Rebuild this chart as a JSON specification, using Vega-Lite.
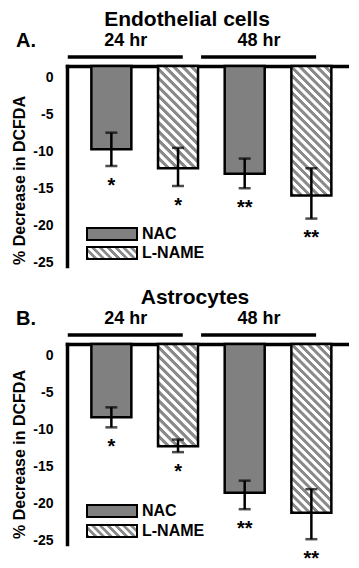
{
"$schema": "https://vega.github.io/schema/vega-lite/v6.json",
"padding": {"left": 11, "top": 9, "right": 0, "bottom": 0},
"background": "white",
"columns": 1,
"spacing": 17,
"align": "none",
"resolve": {"scale": {"x": "independent", "y": "independent", "fill": "independent"}, "legend": {"fill": "independent"}},
"config": {
  "font": "Liberation Sans",
  "view": {"stroke": null},
  "axis": {"domainColor": "black", "domainWidth": 3.5, "domainCap": "square", "ticks": false, "tickSize": 0, "grid": false, "labelOverlap": false, "labelFont": "Liberation Sans", "labelFontSize": 14, "labelFontWeight": "bold", "labelColor": "black", "titleFont": "Liberation Sans", "titleFontSize": 16, "titleFontWeight": "bold", "titleColor": "black"},
  "legend": {"labelFont": "Liberation Sans", "labelFontSize": 16, "labelFontWeight": "bold", "labelColor": "black", "labelLimit": 300}
},
"concat": [
{
 "title": {"text": "Endothelial cells", "fontSize": 21, "fontWeight": "bold", "font": "Liberation Sans", "color": "black", "anchor": "middle", "frame": "group", "dx": -21, "offset": -16, "baseline": "alphabetic"},
 "width": 282, "height": 200,
 "data": {"values": [
  {"cat": "NAC 24", "treat": "NAC", "v": -9.75, "lo": -12.0, "hi": -7.5, "sig": "*"},
  {"cat": "L-NAME 24", "treat": "L-NAME", "v": -12.3, "lo": -14.7, "hi": -9.55, "sig": "*"},
  {"cat": "NAC 48", "treat": "NAC", "v": -13.05, "lo": -15.0, "hi": -11.0, "sig": "**"},
  {"cat": "L-NAME 48", "treat": "L-NAME", "v": -15.97, "lo": -19.1, "hi": -12.3, "sig": "**"}
 ]},
 "layer": [
  {"mark": {"type": "bar", "stroke": "black", "strokeWidth": 2.5},
   "encoding": {
    "x": {"field": "cat", "type": "nominal", "scale": {"domain": ["NAC 24", "L-NAME 24", "NAC 48", "L-NAME 48"], "paddingInner": 0.4, "paddingOuter": 0.315, "align": 0.58}, "axis": {"orient": "top", "labels": false, "ticks": false, "title": null, "domain": true}},
    "y": {"field": "v", "type": "quantitative", "title": "% Decrease in DCFDA", "scale": {"domain": [-25.5, 1.5], "nice": false, "zero": false}, "axis": {"values": [0, -5, -10, -15, -20, -25], "tickCount": 12, "labelExpr": "'' + datum.value", "labelOverlap": false, "titleY": 114, "titlePadding": 5, "labelPadding": 14}},
    "y2": {"datum": 1.5},
    "fill": {
     "condition": [
      {"test": "datum.cat === 'L-NAME 24'", "value": {"gradient": "linear", "x1": 0, "y1": 1, "x2": 0.47214, "y2": -0.20656, "stops": [
{"offset":0,"color":"#8a8a8a"},{"offset":0.025,"color":"#8a8a8a"},{"offset":0.03125,"color":"#fff"},{"offset":0.05625,"color":"#fff"},
{"offset":0.0625,"color":"#8a8a8a"},{"offset":0.0875,"color":"#8a8a8a"},{"offset":0.09375,"color":"#fff"},{"offset":0.11875,"color":"#fff"},
{"offset":0.125,"color":"#8a8a8a"},{"offset":0.15,"color":"#8a8a8a"},{"offset":0.15625,"color":"#fff"},{"offset":0.18125,"color":"#fff"},
{"offset":0.1875,"color":"#8a8a8a"},{"offset":0.2125,"color":"#8a8a8a"},{"offset":0.21875,"color":"#fff"},{"offset":0.24375,"color":"#fff"},
{"offset":0.25,"color":"#8a8a8a"},{"offset":0.275,"color":"#8a8a8a"},{"offset":0.28125,"color":"#fff"},{"offset":0.30625,"color":"#fff"},
{"offset":0.3125,"color":"#8a8a8a"},{"offset":0.3375,"color":"#8a8a8a"},{"offset":0.34375,"color":"#fff"},{"offset":0.36875,"color":"#fff"},
{"offset":0.375,"color":"#8a8a8a"},{"offset":0.4,"color":"#8a8a8a"},{"offset":0.40625,"color":"#fff"},{"offset":0.43125,"color":"#fff"},
{"offset":0.4375,"color":"#8a8a8a"},{"offset":0.4625,"color":"#8a8a8a"},{"offset":0.46875,"color":"#fff"},{"offset":0.49375,"color":"#fff"},
{"offset":0.5,"color":"#8a8a8a"},{"offset":0.525,"color":"#8a8a8a"},{"offset":0.53125,"color":"#fff"},{"offset":0.55625,"color":"#fff"},
{"offset":0.5625,"color":"#8a8a8a"},{"offset":0.5875,"color":"#8a8a8a"},{"offset":0.59375,"color":"#fff"},{"offset":0.61875,"color":"#fff"},
{"offset":0.625,"color":"#8a8a8a"},{"offset":0.65,"color":"#8a8a8a"},{"offset":0.65625,"color":"#fff"},{"offset":0.68125,"color":"#fff"},
{"offset":0.6875,"color":"#8a8a8a"},{"offset":0.7125,"color":"#8a8a8a"},{"offset":0.71875,"color":"#fff"},{"offset":0.74375,"color":"#fff"},
{"offset":0.75,"color":"#8a8a8a"},{"offset":0.775,"color":"#8a8a8a"},{"offset":0.78125,"color":"#fff"},{"offset":0.80625,"color":"#fff"},
{"offset":0.8125,"color":"#8a8a8a"},{"offset":0.8375,"color":"#8a8a8a"},{"offset":0.84375,"color":"#fff"},{"offset":0.86875,"color":"#fff"},
{"offset":0.875,"color":"#8a8a8a"},{"offset":0.9,"color":"#8a8a8a"},{"offset":0.90625,"color":"#fff"},{"offset":0.93125,"color":"#fff"},
{"offset":0.9375,"color":"#8a8a8a"},{"offset":0.9625,"color":"#8a8a8a"},{"offset":0.96875,"color":"#fff"},{"offset":0.99375,"color":"#fff"}
      ]}},
      {"test": "datum.cat === 'L-NAME 48'", "value": {"gradient": "linear", "x1": 0, "y1": 1, "x2": 0.36935, "y2": -0.19494, "stops": [
{"offset":0,"color":"#8a8a8a"},{"offset":0.02,"color":"#8a8a8a"},{"offset":0.025,"color":"#fff"},{"offset":0.045,"color":"#fff"},
{"offset":0.05,"color":"#8a8a8a"},{"offset":0.07,"color":"#8a8a8a"},{"offset":0.075,"color":"#fff"},{"offset":0.095,"color":"#fff"},
{"offset":0.1,"color":"#8a8a8a"},{"offset":0.12,"color":"#8a8a8a"},{"offset":0.125,"color":"#fff"},{"offset":0.145,"color":"#fff"},
{"offset":0.15,"color":"#8a8a8a"},{"offset":0.17,"color":"#8a8a8a"},{"offset":0.175,"color":"#fff"},{"offset":0.195,"color":"#fff"},
{"offset":0.2,"color":"#8a8a8a"},{"offset":0.22,"color":"#8a8a8a"},{"offset":0.225,"color":"#fff"},{"offset":0.245,"color":"#fff"},
{"offset":0.25,"color":"#8a8a8a"},{"offset":0.27,"color":"#8a8a8a"},{"offset":0.275,"color":"#fff"},{"offset":0.295,"color":"#fff"},
{"offset":0.3,"color":"#8a8a8a"},{"offset":0.32,"color":"#8a8a8a"},{"offset":0.325,"color":"#fff"},{"offset":0.345,"color":"#fff"},
{"offset":0.35,"color":"#8a8a8a"},{"offset":0.37,"color":"#8a8a8a"},{"offset":0.375,"color":"#fff"},{"offset":0.395,"color":"#fff"},
{"offset":0.4,"color":"#8a8a8a"},{"offset":0.42,"color":"#8a8a8a"},{"offset":0.425,"color":"#fff"},{"offset":0.445,"color":"#fff"},
{"offset":0.45,"color":"#8a8a8a"},{"offset":0.47,"color":"#8a8a8a"},{"offset":0.475,"color":"#fff"},{"offset":0.495,"color":"#fff"},
{"offset":0.5,"color":"#8a8a8a"},{"offset":0.52,"color":"#8a8a8a"},{"offset":0.525,"color":"#fff"},{"offset":0.545,"color":"#fff"},
{"offset":0.55,"color":"#8a8a8a"},{"offset":0.57,"color":"#8a8a8a"},{"offset":0.575,"color":"#fff"},{"offset":0.595,"color":"#fff"},
{"offset":0.6,"color":"#8a8a8a"},{"offset":0.62,"color":"#8a8a8a"},{"offset":0.625,"color":"#fff"},{"offset":0.645,"color":"#fff"},
{"offset":0.65,"color":"#8a8a8a"},{"offset":0.67,"color":"#8a8a8a"},{"offset":0.675,"color":"#fff"},{"offset":0.695,"color":"#fff"},
{"offset":0.7,"color":"#8a8a8a"},{"offset":0.72,"color":"#8a8a8a"},{"offset":0.725,"color":"#fff"},{"offset":0.745,"color":"#fff"},
{"offset":0.75,"color":"#8a8a8a"},{"offset":0.77,"color":"#8a8a8a"},{"offset":0.775,"color":"#fff"},{"offset":0.795,"color":"#fff"},
{"offset":0.8,"color":"#8a8a8a"},{"offset":0.82,"color":"#8a8a8a"},{"offset":0.825,"color":"#fff"},{"offset":0.845,"color":"#fff"},
{"offset":0.85,"color":"#8a8a8a"},{"offset":0.87,"color":"#8a8a8a"},{"offset":0.875,"color":"#fff"},{"offset":0.895,"color":"#fff"},
{"offset":0.9,"color":"#8a8a8a"},{"offset":0.92,"color":"#8a8a8a"},{"offset":0.925,"color":"#fff"},{"offset":0.945,"color":"#fff"},
{"offset":0.95,"color":"#8a8a8a"},{"offset":0.97,"color":"#8a8a8a"},{"offset":0.975,"color":"#fff"},{"offset":0.995,"color":"#fff"}
      ]}}
     ],
     "field": "treat", "type": "nominal",
     "scale": {"domain": ["NAC", "L-NAME"], "range": ["#808080", {"expr": "{gradient: 'linear', x1: 0, y1: 1, x2: 1.17246, y2: 0.71861, stops: [{offset: 0, color: '#8a8a8a'}, {offset: 0.05, color: '#8a8a8a'}, {offset: 0.0625, color: '#fff'}, {offset: 0.1125, color: '#fff'}, {offset: 0.125, color: '#8a8a8a'}, {offset: 0.175, color: '#8a8a8a'}, {offset: 0.1875, color: '#fff'}, {offset: 0.2375, color: '#fff'}, {offset: 0.25, color: '#8a8a8a'}, {offset: 0.3, color: '#8a8a8a'}, {offset: 0.3125, color: '#fff'}, {offset: 0.3625, color: '#fff'}, {offset: 0.375, color: '#8a8a8a'}, {offset: 0.425, color: '#8a8a8a'}, {offset: 0.4375, color: '#fff'}, {offset: 0.4875, color: '#fff'}, {offset: 0.5, color: '#8a8a8a'}, {offset: 0.55, color: '#8a8a8a'}, {offset: 0.5625, color: '#fff'}, {offset: 0.6125, color: '#fff'}, {offset: 0.625, color: '#8a8a8a'}, {offset: 0.675, color: '#8a8a8a'}, {offset: 0.6875, color: '#fff'}, {offset: 0.7375, color: '#fff'}, {offset: 0.75, color: '#8a8a8a'}, {offset: 0.8, color: '#8a8a8a'}, {offset: 0.8125, color: '#fff'}, {offset: 0.8625, color: '#fff'}, {offset: 0.875, color: '#8a8a8a'}, {offset: 0.925, color: '#8a8a8a'}, {offset: 0.9375, color: '#fff'}, {offset: 0.9875, color: '#fff'}]}"}]},
     "legend": {"orient": "none", "legendX": 37, "legendY": 160, "title": null, "symbolType": "M-4.1667,-1H4.1667V1H-4.1667Z", "symbolSize": 144, "symbolStrokeColor": "black", "symbolStrokeWidth": 2, "symbolOpacity": 1, "labelOffset": 22, "rowPadding": -1,
      "encoding": {"symbols": {"stroke": {"value": "black"}, "strokeWidth": {"value": 2}}}}
    }
   }},
  {"mark": {"type": "errorbar", "ticks": {"size": 12, "thickness": 2.5, "color": "black"}, "rule": {"strokeWidth": 2.5, "color": "black"}},
   "encoding": {"x": {"field": "cat", "type": "nominal"}, "y": {"field": "lo", "type": "quantitative", "title": "% Decrease in DCFDA"}, "y2": {"field": "hi"}}},
  {"mark": {"type": "text", "baseline": "top", "dy": 9.5, "fontSize": 20, "fontWeight": "bold", "font": "Liberation Sans", "color": "black"},
   "encoding": {"x": {"field": "cat", "type": "nominal"}, "y": {"field": "lo", "type": "quantitative", "title": "% Decrease in DCFDA"}, "text": {"field": "sig"}}},
  {"data": {"values": [{"label": "24 hr", "a": "NAC 24", "b": "L-NAME 24"}, {"label": "48 hr", "a": "NAC 48", "b": "L-NAME 48"}]},
   "layer": [
    {"mark": {"type": "rule", "strokeWidth": 3.5, "color": "black", "xOffset": -43.6, "x2Offset": 4.75},
     "encoding": {"x": {"field": "a", "type": "nominal"}, "x2": {"field": "b"}, "y": {"datum": 2.7}}},
    {"mark": {"type": "text", "fontSize": 18, "fontWeight": "bold", "font": "Liberation Sans", "color": "black", "dx": 14.4, "baseline": "middle"},
     "encoding": {"x": {"field": "a", "type": "nominal"}, "y": {"datum": 4.875}, "text": {"field": "label"}}}
   ]},
  {"data": {"values": [{"label": "A.", "a": "NAC 24"}]},
   "mark": {"type": "text", "align": "left", "dx": -95.4, "fontSize": 20, "fontWeight": "bold", "font": "Liberation Sans", "color": "black", "baseline": "middle"},
   "encoding": {"x": {"field": "a", "type": "nominal"}, "y": {"datum": 4.875}, "text": {"field": "label"}}}
 ]
},
{
 "title": {"text": "Astrocytes", "fontSize": 21, "fontWeight": "bold", "font": "Liberation Sans", "color": "black", "anchor": "middle", "frame": "group", "dx": -13, "offset": -16, "baseline": "alphabetic"},
 "width": 282, "height": 200,
 "data": {"values": [
  {"cat": "NAC 24", "treat": "NAC", "v": -8.4, "lo": -9.75, "hi": -7.05, "sig": "*"},
  {"cat": "L-NAME 24", "treat": "L-NAME", "v": -12.3, "lo": -13.1, "hi": -11.4, "sig": "*"},
  {"cat": "NAC 48", "treat": "NAC", "v": -18.58, "lo": -20.8, "hi": -16.95, "sig": "**"},
  {"cat": "L-NAME 48", "treat": "L-NAME", "v": -21.28, "lo": -24.85, "hi": -18.1, "sig": "**"}
 ]},
 "layer": [
  {"mark": {"type": "bar", "stroke": "black", "strokeWidth": 2.5},
   "encoding": {
    "x": {"field": "cat", "type": "nominal", "scale": {"domain": ["NAC 24", "L-NAME 24", "NAC 48", "L-NAME 48"], "paddingInner": 0.4, "paddingOuter": 0.315, "align": 0.58}, "axis": {"orient": "top", "labels": false, "ticks": false, "title": null, "domain": true}},
    "y": {"field": "v", "type": "quantitative", "title": "% Decrease in DCFDA", "scale": {"domain": [-25.5, 1.5], "nice": false, "zero": false}, "axis": {"values": [0, -5, -10, -15, -20, -25], "tickCount": 12, "labelExpr": "'' + datum.value", "labelOverlap": false, "titleY": 110, "titlePadding": 5, "labelPadding": 14}},
    "y2": {"datum": 1.5},
    "fill": {
     "condition": [
      {"test": "datum.cat === 'L-NAME 24'", "value": {"gradient": "linear", "x1": 0, "y1": 1, "x2": 0.47214, "y2": -0.20656, "stops": [
{"offset":0,"color":"#8a8a8a"},{"offset":0.025,"color":"#8a8a8a"},{"offset":0.03125,"color":"#fff"},{"offset":0.05625,"color":"#fff"},
{"offset":0.0625,"color":"#8a8a8a"},{"offset":0.0875,"color":"#8a8a8a"},{"offset":0.09375,"color":"#fff"},{"offset":0.11875,"color":"#fff"},
{"offset":0.125,"color":"#8a8a8a"},{"offset":0.15,"color":"#8a8a8a"},{"offset":0.15625,"color":"#fff"},{"offset":0.18125,"color":"#fff"},
{"offset":0.1875,"color":"#8a8a8a"},{"offset":0.2125,"color":"#8a8a8a"},{"offset":0.21875,"color":"#fff"},{"offset":0.24375,"color":"#fff"},
{"offset":0.25,"color":"#8a8a8a"},{"offset":0.275,"color":"#8a8a8a"},{"offset":0.28125,"color":"#fff"},{"offset":0.30625,"color":"#fff"},
{"offset":0.3125,"color":"#8a8a8a"},{"offset":0.3375,"color":"#8a8a8a"},{"offset":0.34375,"color":"#fff"},{"offset":0.36875,"color":"#fff"},
{"offset":0.375,"color":"#8a8a8a"},{"offset":0.4,"color":"#8a8a8a"},{"offset":0.40625,"color":"#fff"},{"offset":0.43125,"color":"#fff"},
{"offset":0.4375,"color":"#8a8a8a"},{"offset":0.4625,"color":"#8a8a8a"},{"offset":0.46875,"color":"#fff"},{"offset":0.49375,"color":"#fff"},
{"offset":0.5,"color":"#8a8a8a"},{"offset":0.525,"color":"#8a8a8a"},{"offset":0.53125,"color":"#fff"},{"offset":0.55625,"color":"#fff"},
{"offset":0.5625,"color":"#8a8a8a"},{"offset":0.5875,"color":"#8a8a8a"},{"offset":0.59375,"color":"#fff"},{"offset":0.61875,"color":"#fff"},
{"offset":0.625,"color":"#8a8a8a"},{"offset":0.65,"color":"#8a8a8a"},{"offset":0.65625,"color":"#fff"},{"offset":0.68125,"color":"#fff"},
{"offset":0.6875,"color":"#8a8a8a"},{"offset":0.7125,"color":"#8a8a8a"},{"offset":0.71875,"color":"#fff"},{"offset":0.74375,"color":"#fff"},
{"offset":0.75,"color":"#8a8a8a"},{"offset":0.775,"color":"#8a8a8a"},{"offset":0.78125,"color":"#fff"},{"offset":0.80625,"color":"#fff"},
{"offset":0.8125,"color":"#8a8a8a"},{"offset":0.8375,"color":"#8a8a8a"},{"offset":0.84375,"color":"#fff"},{"offset":0.86875,"color":"#fff"},
{"offset":0.875,"color":"#8a8a8a"},{"offset":0.9,"color":"#8a8a8a"},{"offset":0.90625,"color":"#fff"},{"offset":0.93125,"color":"#fff"},
{"offset":0.9375,"color":"#8a8a8a"},{"offset":0.9625,"color":"#8a8a8a"},{"offset":0.96875,"color":"#fff"},{"offset":0.99375,"color":"#fff"}
      ]}},
      {"test": "datum.cat === 'L-NAME 48'", "value": {"gradient": "linear", "x1": 0, "y1": 1, "x2": 0.27764, "y2": -0.17124, "stops": [
{"offset":0,"color":"#8a8a8a"},{"offset":0.016,"color":"#8a8a8a"},{"offset":0.02,"color":"#fff"},{"offset":0.036,"color":"#fff"},
{"offset":0.04,"color":"#8a8a8a"},{"offset":0.056,"color":"#8a8a8a"},{"offset":0.06,"color":"#fff"},{"offset":0.076,"color":"#fff"},
{"offset":0.08,"color":"#8a8a8a"},{"offset":0.096,"color":"#8a8a8a"},{"offset":0.1,"color":"#fff"},{"offset":0.116,"color":"#fff"},
{"offset":0.12,"color":"#8a8a8a"},{"offset":0.136,"color":"#8a8a8a"},{"offset":0.14,"color":"#fff"},{"offset":0.156,"color":"#fff"},
{"offset":0.16,"color":"#8a8a8a"},{"offset":0.176,"color":"#8a8a8a"},{"offset":0.18,"color":"#fff"},{"offset":0.196,"color":"#fff"},
{"offset":0.2,"color":"#8a8a8a"},{"offset":0.216,"color":"#8a8a8a"},{"offset":0.22,"color":"#fff"},{"offset":0.236,"color":"#fff"},
{"offset":0.24,"color":"#8a8a8a"},{"offset":0.256,"color":"#8a8a8a"},{"offset":0.26,"color":"#fff"},{"offset":0.276,"color":"#fff"},
{"offset":0.28,"color":"#8a8a8a"},{"offset":0.296,"color":"#8a8a8a"},{"offset":0.3,"color":"#fff"},{"offset":0.316,"color":"#fff"},
{"offset":0.32,"color":"#8a8a8a"},{"offset":0.336,"color":"#8a8a8a"},{"offset":0.34,"color":"#fff"},{"offset":0.356,"color":"#fff"},
{"offset":0.36,"color":"#8a8a8a"},{"offset":0.376,"color":"#8a8a8a"},{"offset":0.38,"color":"#fff"},{"offset":0.396,"color":"#fff"},
{"offset":0.4,"color":"#8a8a8a"},{"offset":0.416,"color":"#8a8a8a"},{"offset":0.42,"color":"#fff"},{"offset":0.436,"color":"#fff"},
{"offset":0.44,"color":"#8a8a8a"},{"offset":0.456,"color":"#8a8a8a"},{"offset":0.46,"color":"#fff"},{"offset":0.476,"color":"#fff"},
{"offset":0.48,"color":"#8a8a8a"},{"offset":0.496,"color":"#8a8a8a"},{"offset":0.5,"color":"#fff"},{"offset":0.516,"color":"#fff"},
{"offset":0.52,"color":"#8a8a8a"},{"offset":0.536,"color":"#8a8a8a"},{"offset":0.54,"color":"#fff"},{"offset":0.556,"color":"#fff"},
{"offset":0.56,"color":"#8a8a8a"},{"offset":0.576,"color":"#8a8a8a"},{"offset":0.58,"color":"#fff"},{"offset":0.596,"color":"#fff"},
{"offset":0.6,"color":"#8a8a8a"},{"offset":0.616,"color":"#8a8a8a"},{"offset":0.62,"color":"#fff"},{"offset":0.636,"color":"#fff"},
{"offset":0.64,"color":"#8a8a8a"},{"offset":0.656,"color":"#8a8a8a"},{"offset":0.66,"color":"#fff"},{"offset":0.676,"color":"#fff"},
{"offset":0.68,"color":"#8a8a8a"},{"offset":0.696,"color":"#8a8a8a"},{"offset":0.7,"color":"#fff"},{"offset":0.716,"color":"#fff"},
{"offset":0.72,"color":"#8a8a8a"},{"offset":0.736,"color":"#8a8a8a"},{"offset":0.74,"color":"#fff"},{"offset":0.756,"color":"#fff"},
{"offset":0.76,"color":"#8a8a8a"},{"offset":0.776,"color":"#8a8a8a"},{"offset":0.78,"color":"#fff"},{"offset":0.796,"color":"#fff"},
{"offset":0.8,"color":"#8a8a8a"},{"offset":0.816,"color":"#8a8a8a"},{"offset":0.82,"color":"#fff"},{"offset":0.836,"color":"#fff"},
{"offset":0.84,"color":"#8a8a8a"},{"offset":0.856,"color":"#8a8a8a"},{"offset":0.86,"color":"#fff"},{"offset":0.876,"color":"#fff"},
{"offset":0.88,"color":"#8a8a8a"},{"offset":0.896,"color":"#8a8a8a"},{"offset":0.9,"color":"#fff"},{"offset":0.916,"color":"#fff"},
{"offset":0.92,"color":"#8a8a8a"},{"offset":0.936,"color":"#8a8a8a"},{"offset":0.94,"color":"#fff"},{"offset":0.956,"color":"#fff"},
{"offset":0.96,"color":"#8a8a8a"},{"offset":0.976,"color":"#8a8a8a"},{"offset":0.98,"color":"#fff"},{"offset":0.996,"color":"#fff"}
      ]}}
     ],
     "field": "treat", "type": "nominal",
     "scale": {"domain": ["NAC", "L-NAME"], "range": ["#808080", {"expr": "{gradient: 'linear', x1: 0, y1: 1, x2: 1.17246, y2: 0.71861, stops: [{offset: 0, color: '#8a8a8a'}, {offset: 0.05, color: '#8a8a8a'}, {offset: 0.0625, color: '#fff'}, {offset: 0.1125, color: '#fff'}, {offset: 0.125, color: '#8a8a8a'}, {offset: 0.175, color: '#8a8a8a'}, {offset: 0.1875, color: '#fff'}, {offset: 0.2375, color: '#fff'}, {offset: 0.25, color: '#8a8a8a'}, {offset: 0.3, color: '#8a8a8a'}, {offset: 0.3125, color: '#fff'}, {offset: 0.3625, color: '#fff'}, {offset: 0.375, color: '#8a8a8a'}, {offset: 0.425, color: '#8a8a8a'}, {offset: 0.4375, color: '#fff'}, {offset: 0.4875, color: '#fff'}, {offset: 0.5, color: '#8a8a8a'}, {offset: 0.55, color: '#8a8a8a'}, {offset: 0.5625, color: '#fff'}, {offset: 0.6125, color: '#fff'}, {offset: 0.625, color: '#8a8a8a'}, {offset: 0.675, color: '#8a8a8a'}, {offset: 0.6875, color: '#fff'}, {offset: 0.7375, color: '#fff'}, {offset: 0.75, color: '#8a8a8a'}, {offset: 0.8, color: '#8a8a8a'}, {offset: 0.8125, color: '#fff'}, {offset: 0.8625, color: '#fff'}, {offset: 0.875, color: '#8a8a8a'}, {offset: 0.925, color: '#8a8a8a'}, {offset: 0.9375, color: '#fff'}, {offset: 0.9875, color: '#fff'}]}"}]},
     "legend": {"orient": "none", "legendX": 37, "legendY": 159, "title": null, "symbolType": "M-4.1667,-1H4.1667V1H-4.1667Z", "symbolSize": 144, "symbolStrokeColor": "black", "symbolStrokeWidth": 2, "symbolOpacity": 1, "labelOffset": 22, "rowPadding": 0,
      "encoding": {"symbols": {"stroke": {"value": "black"}, "strokeWidth": {"value": 2}}}}
    }
   }},
  {"mark": {"type": "errorbar", "ticks": {"size": 12, "thickness": 2.5, "color": "black"}, "rule": {"strokeWidth": 2.5, "color": "black"}},
   "encoding": {"x": {"field": "cat", "type": "nominal"}, "y": {"field": "lo", "type": "quantitative", "title": "% Decrease in DCFDA"}, "y2": {"field": "hi"}}},
  {"mark": {"type": "text", "baseline": "top", "dy": 9.5, "fontSize": 20, "fontWeight": "bold", "font": "Liberation Sans", "color": "black"},
   "encoding": {"x": {"field": "cat", "type": "nominal"}, "y": {"field": "lo", "type": "quantitative", "title": "% Decrease in DCFDA"}, "text": {"field": "sig"}}},
  {"data": {"values": [{"label": "24 hr", "a": "NAC 24", "b": "L-NAME 24"}, {"label": "48 hr", "a": "NAC 48", "b": "L-NAME 48"}]},
   "layer": [
    {"mark": {"type": "rule", "strokeWidth": 3.5, "color": "black", "xOffset": -43.6, "x2Offset": 4.75},
     "encoding": {"x": {"field": "a", "type": "nominal"}, "x2": {"field": "b"}, "y": {"datum": 2.7}}},
    {"mark": {"type": "text", "fontSize": 18, "fontWeight": "bold", "font": "Liberation Sans", "color": "black", "dx": 14.4, "baseline": "middle"},
     "encoding": {"x": {"field": "a", "type": "nominal"}, "y": {"datum": 4.875}, "text": {"field": "label"}}}
   ]},
  {"data": {"values": [{"label": "B.", "a": "NAC 24"}]},
   "mark": {"type": "text", "align": "left", "dx": -95.4, "fontSize": 20, "fontWeight": "bold", "font": "Liberation Sans", "color": "black", "baseline": "middle"},
   "encoding": {"x": {"field": "a", "type": "nominal"}, "y": {"datum": 4.875}, "text": {"field": "label"}}}
 ]
}
]
}
